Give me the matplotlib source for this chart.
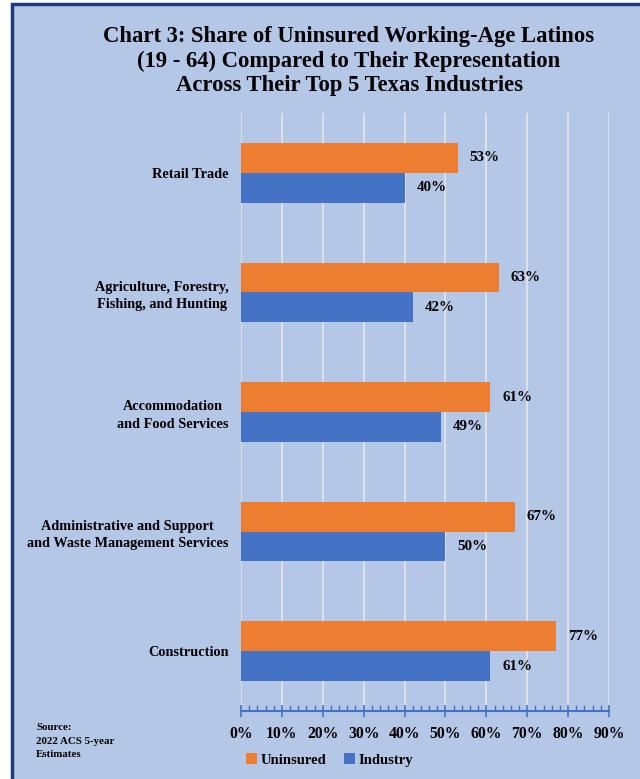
import matplotlib
matplotlib.use("Agg")
import matplotlib.pyplot as plt
from matplotlib.patches import Rectangle
from matplotlib.ticker import MultipleLocator, FuncFormatter
import numpy as np

categories = ["Retail Trade",
              "Agriculture, Forestry,\nFishing, and Hunting",
              "Accommodation\nand Food Services",
              "Administrative and Support\nand Waste Management Services",
              "Construction"]
uninsured = [53, 63, 61, 67, 77]
industry = [40, 42, 49, 50, 61]
series_names = ["Uninsured", "Industry"]

BG = "#B4C7E7"
ORANGE = "#ED7D31"
BLUE = "#4472C4"
BORDER = "#1F3A78"
SERIF = ["Liberation Serif", "DejaVu Serif"]

plt.rcParams['font.family'] = SERIF
plt.rcParams['font.weight'] = 'bold'

fig = plt.figure(figsize=(6.4, 7.79), dpi=100)
fig.patch.set_facecolor("white")
# panel background with border
fig.add_artist(Rectangle((12/640, -0.01), 1.0, 1 - 4/779 + 0.01, transform=fig.transFigure,
                         facecolor=BG, edgecolor=BORDER, linewidth=2.5, zorder=0))

ax = fig.add_axes([241/640, 1 - 711/779, (609 - 241)/640, (711 - 113)/779])
ax.set_facecolor("none")

n = len(categories)
y = np.arange(n)
h = 0.25
ax.barh(y - h/2, uninsured, height=h, color=ORANGE, label=series_names[0], zorder=3)
ax.barh(y + h/2, industry, height=h, color=BLUE, label=series_names[1], zorder=3)

for yi, u, ind in zip(y, uninsured, industry):
    ax.text(u + 2.9, yi - h/2, f"{u}%", va="center", ha="left", fontsize=10.8, fontweight="bold")
    ax.text(ind + 2.9, yi + h/2, f"{ind}%", va="center", ha="left", fontsize=10.8, fontweight="bold")

ax.set_ylim(n - 0.5, -0.5)
ax.set_xlim(0, 90)
ax.set_yticks(y)
ax.set_yticklabels(categories, fontsize=10.3, fontweight="bold", multialignment="center",
                   linespacing=1.4)
ax.tick_params(axis="y", length=0, pad=9)

ax.xaxis.set_major_locator(MultipleLocator(10))
ax.xaxis.set_minor_locator(MultipleLocator(2))
ax.xaxis.set_major_formatter(FuncFormatter(lambda v, p: f"{int(round(v))}%"))
ax.tick_params(axis="x", which="major", direction="inout", length=9, width=1.2, color=BLUE,
               labelsize=11.3, pad=6)
ax.tick_params(axis="x", which="minor", direction="in", length=4, width=1, color=BLUE)
for lab in ax.get_xticklabels():
    lab.set_fontweight("bold")

ax.grid(axis="x", which="major", color="#E6E6E6", linewidth=1.2, zorder=0)
ax.set_axisbelow(True)
for s in ["top", "right", "left"]:
    ax.spines[s].set_visible(False)
ax.spines["bottom"].set_color(BLUE)
ax.spines["bottom"].set_linewidth(1.5)

fig.text(349/640, 1 - 61/779, "Chart 3: Share of Uninsured Working-Age Latinos\n(19 - 64) Compared to Their Representation\nAcross Their Top 5 Texas Industries",
         ha="center", va="center", fontsize=16.3, fontweight="bold", linespacing=1.22)

fig.text(36/640, 1 - 723/779, "Source:\n2022 ACS 5-year\nEstimates", ha="left", va="top",
         fontsize=7.8, fontweight="bold", linespacing=1.65)

leg = fig.legend(loc="center", bbox_to_anchor=(330/640, 1 - 760/779), ncol=2, frameon=False,
                 prop={"family": SERIF, "weight": "bold", "size": 10.5}, handlelength=0.7,
                 handleheight=0.7, handletextpad=0.3, columnspacing=1.2)

fig.savefig("out.png", dpi=100, facecolor=fig.get_facecolor())
